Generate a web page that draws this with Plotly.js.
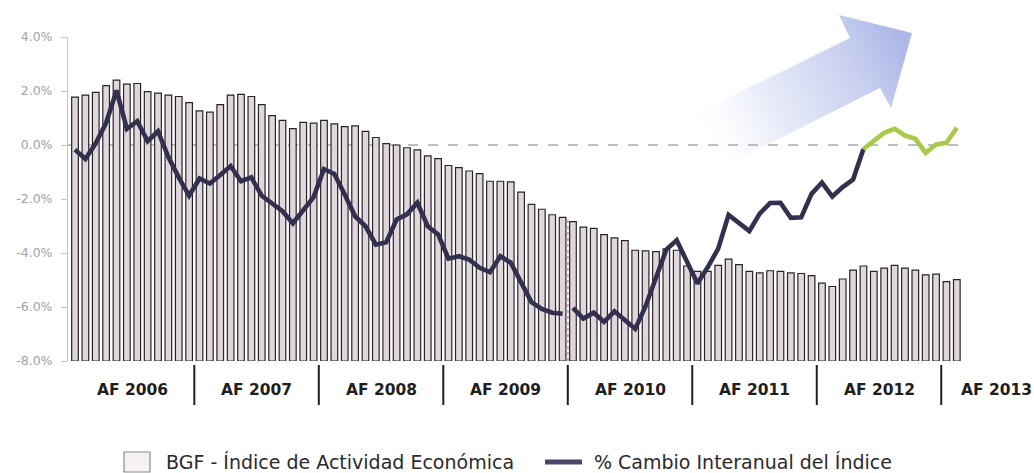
<!DOCTYPE html>
<html><head><meta charset="utf-8">
<script src="https://cdn.plot.ly/plotly-3.0.1.min.js"></script>
<style>html,body{margin:0;padding:0;background:#fff;}#chart{width:1034px;height:473px;}</style>
</head><body><div id="chart"></div>
<script>
// Fiscal years (Jul-Jun) shown on the axis
const fiscalYears = ['AF 2006','AF 2007','AF 2008','AF 2009','AF 2010','AF 2011','AF 2012','AF 2013'];
const monthNames = ['Jul','Ago','Sep','Oct','Nov','Dic','Ene','Feb','Mar','Abr','May','Jun'];
const seriesNames = ['BGF - Índice de Actividad Económica', '% Cambio Interanual del Índice'];

// BGF - Índice de Actividad Económica (monthly, Jul 2005 - Aug 2012)
const indexValues = [
 154.6,154.9,155.3,156.3,157.1,156.5,156.6,155.4,155.2,154.9,154.7,153.8,
 152.6,152.4,153.5,154.9,155.0,154.7,153.5,151.9,151.2,150.0,150.9,150.8,
 151.2,150.7,150.3,150.4,149.6,148.7,147.8,147.6,147.2,146.9,146.0,145.6,
 144.6,144.3,143.8,143.4,142.3,142.3,142.2,140.7,138.9,138.2,137.4,137.0,
 136.4,135.6,135.4,134.5,134.0,133.6,132.2,132.1,132.0,132.4,132.2,129.9,
 129.1,129.1,130.0,130.9,130.1,129.1,128.9,129.2,129.1,128.9,128.8,128.5,
 127.4,126.9,128.0,129.3,129.9,129.1,129.6,130.0,129.6,129.3,128.6,128.7,
 127.6,127.9
];

// % Cambio Interanual del Índice
const yoyChange = [
 -0.17,-0.52,0.06,0.82,2.02,0.60,0.88,0.14,0.51,-0.45,-1.20,-1.88,
 -1.24,-1.43,-1.11,-0.78,-1.34,-1.20,-1.88,-2.15,-2.45,-2.90,-2.42,-1.93,
 -0.89,-1.07,-1.83,-2.64,-3.01,-3.69,-3.60,-2.76,-2.57,-2.14,-3.01,-3.31,
 -4.21,-4.12,-4.24,-4.55,-4.71,-4.12,-4.36,-5.10,-5.82,-6.07,-6.21,-6.25,
 -6.03,-6.43,-6.21,-6.55,-6.16,-6.46,-6.81,-5.97,-4.86,-3.87,-3.53,-4.36,
 -5.13,-4.52,-3.84,-2.59,-2.88,-3.19,-2.54,-2.15,-2.14,-2.70,-2.68,-1.81,
 -1.39,-1.91,-1.56,-1.28,-0.15,0.14,0.45,0.60,0.35,0.23,-0.29,0.02,
 0.08,0.64
];

const yTickVals = [4,2,0,-2,-4,-6,-8];
const yTickText = ['4.0%','2.0%','0.0%','-2.0%','-4.0%','-6.0%','-8.0%'];

// segment boundaries (break after AF 2009, start of recent period)
const breakAfter = 47;
const recentStart = 76;

const idx = indexValues.map((v,i)=>i);
const labels = idx.map(i => monthNames[i%12] + ' ' + (2005 + Math.floor((i+6)/12)));
const BASE = 116;

const W = 1034, H = 473, L = 68, R = 72, T = 37, B = 112;
const pw = W-L-R, ph = H-T-B;
const XMIN = -0.675, XMAX = 85.5;
const px2paperX = p => (p - L)/pw;
const px2paperY = p => (T + ph - p)/ph;
const idx2paperX = i => (i - XMIN)/(XMAX - XMIN);

const barTrace = {
  type:'bar', x: idx, y: indexValues.map(v=>v-BASE), base: BASE, yaxis:'y',
  name: seriesNames[0], hovertext: labels, hoverinfo:'text+y', showlegend:false,
  marker:{color:'#e0d6db', line:{color:'#262626', width:1.2}},
  width:0.64, cliponaxis:false
};
const seg = (a,b) => ({x: idx.slice(a,b+1), y: yoyChange.slice(a,b+1)});
const lineStyle = {color:'#33304f', width:4.6};
const s1 = seg(0, breakAfter), s2 = seg(breakAfter+1, recentStart), s3 = seg(recentStart, idx.length-1);
const line1 = {type:'scatter', mode:'lines', x:s1.x, y:s1.y, yaxis:'y2', name:seriesNames[1], showlegend:false, line:lineStyle};
const line2 = {type:'scatter', mode:'lines', x:s2.x, y:s2.y, yaxis:'y2', showlegend:false, line:lineStyle};
const line3 = {type:'scatter', mode:'lines', x:s3.x, y:s3.y, yaxis:'y2', showlegend:false, line:{color:'#a8c94a', width:4.6}};

// decorative arrow (svg in figure pixel space)
const arrowSvg = '<svg xmlns="http://www.w3.org/2000/svg" width="1034" height="473" viewBox="0 0 1034 473">'+
 '<defs><linearGradient id="g" gradientUnits="userSpaceOnUse" x1="700" y1="155" x2="905" y2="45">'+
 '<stop offset="0" stop-color="#ffffff" stop-opacity="0"/><stop offset="0.35" stop-color="#eaedf9"/>'+
 '<stop offset="0.75" stop-color="#c9d0f0"/><stop offset="1" stop-color="#adb7e8"/></linearGradient></defs>'+
 '<polygon points="695,114 850,38 839,15 912,33 891,108 880,88 735,161" fill="url(#g)"/></svg>';
const arrowSrc = 'data:image/svg+xml;charset=utf-8,' + encodeURIComponent(arrowSvg);

const shapes = [
  {type:'line', xref:'x', yref:'y2', x0:XMIN, x1:XMAX, y0:0, y1:0, layer:'below',
   line:{color:'#a9a9a9', width:1.5, dash:'10px,10px'}},
  {type:'line', xref:'x', yref:'y2', x0:breakAfter+0.5, x1:breakAfter+0.5, y0:-8, y1:-2.75,
   line:{color:'#c7a9b9', width:2, dash:'dot'}}
];
fiscalYears.slice(1).forEach((f,k)=>{
  shapes.push({type:'line', xref:'x', yref:'paper', x0:12*(k+1)-0.5, x1:12*(k+1)-0.5,
    y0:px2paperY(365), y1:px2paperY(405), line:{color:'#1e1e1e', width:2}});
});
// legend keys
shapes.push({type:'rect', xref:'paper', yref:'paper', x0:px2paperX(124), x1:px2paperX(150),
  y0:px2paperY(472), y1:px2paperY(452), line:{color:'#8a8a8a', width:1.2}, fillcolor:'#f6f2f4'});
shapes.push({type:'line', xref:'paper', yref:'paper', x0:px2paperX(545), x1:px2paperX(582),
  y0:px2paperY(462), y1:px2paperY(462), line:{color:'#4a4868', width:5}});

const annotations = fiscalYears.map((f,k)=>({
  xref:'paper', yref:'paper', x: idx2paperX(Math.min(5.5+12*k, 88.8)), y:px2paperY(390), text:f, showarrow:false,
  xanchor:'center', yanchor:'middle',
  font:{family:'DejaVu Sans', size:15.5, color:'#1e1e1e', weight:'bold'}
}));
annotations.push({xref:'paper', yref:'paper', x:px2paperX(164), y:px2paperY(462), text:seriesNames[0],
  showarrow:false, xanchor:'left', yanchor:'middle', font:{family:'DejaVu Sans', size:19, color:'#2a2a2a'}});
annotations.push({xref:'paper', yref:'paper', x:px2paperX(592), y:px2paperY(462), text:seriesNames[1],
  showarrow:false, xanchor:'left', yanchor:'middle', font:{family:'DejaVu Sans', size:19, color:'#2a2a2a'}});

const layout = {
  width:W, height:H, margin:{l:L, r:R, t:T, b:B, pad:0},
  paper_bgcolor:'#ffffff', plot_bgcolor:'rgba(0,0,0,0)',
  showlegend:false,
  xaxis:{range:[XMIN, XMAX], showticklabels:false, showgrid:false, zeroline:false, showline:false, ticks:''},
  yaxis:{range:[BASE, BASE + ph*0.1463], visible:false, showgrid:false, zeroline:false},
  yaxis2:{overlaying:'y', side:'left', range:[-8,4], tickvals:yTickVals, ticktext:yTickText, showgrid:false, zeroline:false,
    showline:true, linecolor:'#c4c4c4', linewidth:1, ticks:'outside', ticklen:6, tickcolor:'#c4c4c4',
    ticklabelstandoff:6, tickfont:{family:'DejaVu Sans', size:12.5, color:'#a3a3a3'}},
  shapes: shapes,
  annotations: annotations,
  images:[{source:arrowSrc, xref:'paper', yref:'paper', x:-L/pw, y:1+T/ph, sizex:W/pw, sizey:H/ph,
    xanchor:'left', yanchor:'top', sizing:'stretch', layer:'below'}]
};

Plotly.newPlot('chart', [barTrace, line1, line2, line3], layout, {displayModeBar:false, staticPlot:true});
</script></body></html>
